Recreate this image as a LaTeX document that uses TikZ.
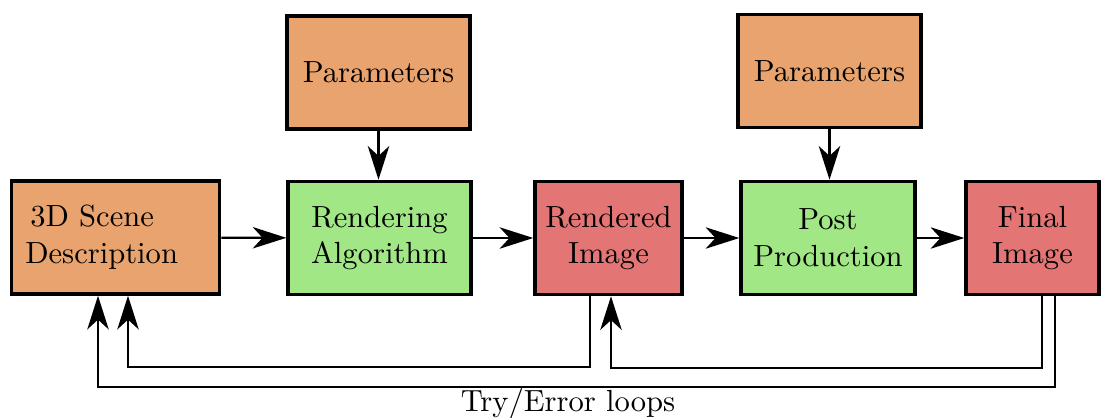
\documentclass[tikz,border=0pt]{standalone}
\usetikzlibrary{arrows.meta,calc}

\definecolor{inputfill}{HTML}{E8A36E}
\definecolor{procfill}{HTML}{A1E786}
\definecolor{imgfill}{HTML}{E37575}

\tikzset{
  box/.style={draw=black, line width=1.1pt, minimum height=37pt,
    inner sep=0pt, align=center, font=\normalsize},
  inputbox/.style={box, fill=inputfill},
  procbox/.style={box, fill=procfill},
  imgbox/.style={box, fill=imgfill},
  conn/.style={line width=0.7pt,
    -{Stealth[length=11pt,width=7pt,inset=3.2pt]}},
}

\begin{document}
\begin{tikzpicture}[x=0.327pt, y=-0.327pt]
  \useasboundingbox (0,0) rectangle (1101,417);

  % main processing chain
  \node[inputbox, align=left, text width=59pt, inner xsep=4.6pt]
    (scene) at (115.5,237.5) {\,3D Scene\\Description};
  \node[procbox, minimum width=59.8pt] (render) at (379.5,238) {Rendering\\Algorithm};
  \node[imgbox, minimum width=48.1pt] (rimg) at (608.5,238) {Rendered\\Image};
  \node[procbox, minimum width=56.9pt] (post) at (828,238) {Post\\Production};
  \node[imgbox, minimum width=43.5pt] (final) at (1032.5,238) {Final\\Image};

  % parameter inputs
  \node[inputbox, minimum width=59.8pt] (par1) at (378.5,72.5) {Parameters};
  \node[inputbox, minimum width=59.8pt] (par2) at (829.5,71) {Parameters};

  % forward connections
  \draw[conn] (scene) -- (render);
  \draw[conn] (render) -- (rimg);
  \draw[conn] (rimg) -- (post);
  \draw[conn] (post) -- (final);
  \draw[conn] (par1.south) -- (par1.south |- render.north);
  \draw[conn] (par2.south) -- (par2.south |- post.north);

  % feedback loops
  \draw[conn] ($(rimg.south)+(-18.5,0)$) -- ++(0,71) -| ($(scene.south)+(12.5,0)$);
  \draw[conn] ($(final.south)+(9.5,0)$) -- ++(0,71.5) -| ($(rimg.south)+(2.5,0)$);
  \draw[conn] ($(final.south)+(22.5,0)$) -- ++(0,90.5) -| ($(scene.south)+(-17.5,0)$);

  \node[font=\normalsize, inner sep=0pt] (loops) at (568,404) {Try/Error loops};
\end{tikzpicture}
\end{document}
